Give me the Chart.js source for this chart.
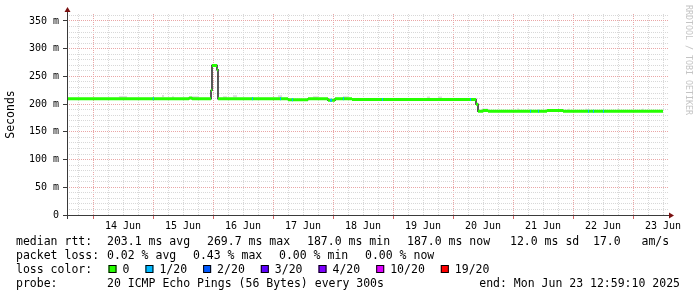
<!DOCTYPE html>
<html>
<head>
<meta charset="utf-8">
<script src="https://cdn.jsdelivr.net/npm/chart.js@4.4.1/dist/chart.umd.min.js"></script>
<style>
  html, body { margin: 0; padding: 0; background: #fff; }
</style>
</head>
<body>
<canvas id="rtt" width="697" height="297"></canvas>
<script>
// x is hours counted from 14 Jun 00:00
const X_MIN = -10.4;
const X_MAX = 230;
const Y_MAX = 362.6;

// median rtt in ms, one entry per step
const medianStart = [-10.4, 38.4, 39.6, 47.2, 47.6, 49.6, 50, 78, 86, 94, 96.8, 103.6, 153.2, 154, 156, 158, 181.6, 188];
const medianValue = [209.5, 211, 209.5, 225, 269.7, 262, 209.5, 208, 209.5, 207, 209.5, 208.5, 200, 187, 188.5, 187, 188.5, 187];
const medianEnd = 228;

// intervals that lost 1 of 20 pings
const lossStart = [23.9, 63.6, 74.8, 79.6, 94.8, 100, 115.6, 150.8, 174.8, 178, 198, 200, 204];
const lossEnd = [24.3, 64, 75.2, 80, 95.6, 100.4, 116, 151.2, 175.2, 178.4, 198.4, 200.4, 204.4];
const lossValue = [209.5, 209.5, 209.5, 208, 207, 209.5, 208.5, 208.5, 187, 187, 187, 187, 187];

// smoke peeking above the median
const smokeStart = [10.4, 27.6, 31.6, 39.6, 52, 56, 74, 88, 100, 133.6, 138, 155.6, 169.6, 190, 196.8, 209.6, 219.6];
const smokeEnd = [13.6, 28.4, 32.4, 42.4, 53.6, 57.6, 75.6, 90, 102, 134.8, 139.6, 158, 170.4, 190.8, 197.6, 210.4, 220.4];
const smokeTop = [213, 214.5, 212.5, 212.5, 212.5, 214, 214, 212.5, 212.5, 212, 212, 190.5, 190.5, 190, 190, 190, 190];

// axis ticks and labels
const gridHours = [-6, 0, 6, 12, 18, 24, 30, 36, 42, 48, 54, 60, 66, 72, 78, 84, 90, 96, 102, 108, 114, 120,
  126, 132, 138, 144, 150, 156, 162, 168, 174, 180, 186, 192, 198, 204, 210, 216, 222, 228];
const dayNoon = [12, 36, 60, 84, 108, 132, 156, 180, 204, 228];
const dayLabels = ['14 Jun', '15 Jun', '16 Jun', '17 Jun', '18 Jun', '19 Jun', '20 Jun', '21 Jun', '22 Jun', '23 Jun'];
const gridMs = [0, 10, 20, 30, 40, 50, 60, 70, 80, 90, 100, 110, 120, 130, 140, 150, 160, 170, 180,
  190, 200, 210, 220, 230, 240, 250, 260, 270, 280, 290, 300, 310, 320, 330, 340, 350, 360];
const yTicks = [0, 50, 100, 150, 200, 250, 300, 350];
const yTickLabels = ['0', '50 m', '100 m', '150 m', '200 m', '250 m', '300 m', '350 m'];

// legend texts
const rttStats = ['203.1 ms avg', '269.7 ms max', '187.0 ms min', '187.0 ms now', '12.0 ms sd', '17.0   am/s'];
const lossStats = ['0.02 % avg', '0.43 % max', '0.00 % min', '0.00 % now'];
const lossLabels = ['0', '1/20', '2/20', '3/20', '4/20', '10/20', '19/20'];
const lossColors = ['#26ff00', '#00b8ff', '#0059ff', '#5e00ff', '#7e00ff', '#dd00ff', '#ff0000'];

const MONO = "'DejaVu Sans Mono', monospace";
const GRID_MINOR = '#d8d8d8';
const GRID_MAJOR = '#eaa6a6';

function isStep(v, step) {
  return Math.abs(v / step - Math.round(v / step)) < 1e-6;
}

// horizontal pieces separated by gaps
function segments(starts, ends, values) {
  const pts = [];
  starts.forEach((s, i) => {
    pts.push({ x: s, y: values[i] }, { x: ends[i], y: values[i] }, { x: ends[i], y: null });
  });
  return pts;
}

const medianEnds = medianStart.map((s, i) => i < medianStart.length - 1 ? medianStart[i + 1] : medianEnd);
const medianSteps = medianStart.map((s, i) => ({ x: s, y: medianValue[i] }));
medianSteps.push({ x: medianEnd, y: medianValue[medianValue.length - 1] });

const decorations = {
  id: 'decorations',
  afterDraw(chart) {
    const { ctx, chartArea: a } = chart;
    ctx.save();

    // axis lines and arrows
    ctx.strokeStyle = '#3a3a3a';
    ctx.lineWidth = 1;
    ctx.beginPath();
    ctx.moveTo(a.left - 4, a.bottom + 0.5);
    ctx.lineTo(a.right + 1, a.bottom + 0.5);
    ctx.moveTo(a.left + 0.5, a.bottom + 4);
    ctx.lineTo(a.left + 0.5, a.top - 2);
    ctx.stroke();

    ctx.fillStyle = '#7a1010';
    ctx.beginPath();
    ctx.moveTo(a.right + 6, a.bottom + 0.5);
    ctx.lineTo(a.right + 1, a.bottom - 2.5);
    ctx.lineTo(a.right + 1, a.bottom + 3.5);
    ctx.closePath();
    ctx.fill();
    ctx.beginPath();
    ctx.moveTo(a.left + 0.5, a.top - 7);
    ctx.lineTo(a.left - 2.5, a.top - 2);
    ctx.lineTo(a.left + 3.5, a.top - 2);
    ctx.closePath();
    ctx.fill();

    // watermark
    ctx.save();
    ctx.translate(688, 5);
    ctx.rotate(Math.PI / 2);
    ctx.font = '8.3px ' + MONO;
    ctx.fillStyle = '#c4c4c4';
    ctx.textBaseline = 'middle';
    ctx.fillText('RRDTOOL / TOBI OETIKER', 0, 0);
    ctx.restore();

    // legend
    ctx.font = '11.5px ' + MONO;
    ctx.fillStyle = '#000';
    ctx.textBaseline = 'alphabetic';
    const rows = [245, 258.9, 272.8, 286.7];

    ctx.fillText('median rtt:', 16, rows[0]);
    const rttX = [107, 207, 307, 407, 510, 593];
    rttStats.forEach((t, i) => ctx.fillText(t, rttX[i], rows[0]));

    ctx.fillText('packet loss:', 16, rows[1]);
    const lossX = [107, 193, 279, 365];
    lossStats.forEach((t, i) => ctx.fillText(t, lossX[i], rows[1]));

    ctx.fillText('loss color:', 16, rows[2]);
    let bx = 108.5;
    lossLabels.forEach((t, i) => {
      ctx.fillStyle = lossColors[i];
      ctx.fillRect(bx, 265, 8, 8);
      ctx.strokeStyle = '#000';
      ctx.strokeRect(bx + 0.5, 265.5, 7, 7);
      ctx.fillStyle = '#000';
      ctx.fillText(t, bx + 14, rows[2]);
      bx += 14 + ctx.measureText(t).width + 16;
    });

    ctx.fillText('probe:', 16, rows[3]);
    ctx.fillText('20 ICMP Echo Pings (56 Bytes) every 300s', 107, rows[3]);
    ctx.textAlign = 'right';
    ctx.fillText('end: Mon Jun 23 12:59:10 2025', 680, rows[3]);

    ctx.restore();
  }
};

new Chart(document.getElementById('rtt'), {
  type: 'line',
  data: {
    datasets: [
      {
        label: 'loss 1/20',
        data: segments(lossStart, lossEnd, lossValue),
        borderColor: lossColors[1],
        borderWidth: 3,
        pointRadius: 0,
        spanGaps: false
      },
      {
        label: 'median',
        data: segments(medianStart, medianEnds, medianValue),
        borderColor: lossColors[0],
        borderWidth: 3,
        pointRadius: 0,
        spanGaps: false
      },
      {
        label: 'median step',
        data: medianSteps,
        borderColor: '#000',
        borderWidth: 1.3,
        pointRadius: 0,
        stepped: true
      },
      {
        label: 'smoke',
        data: segments(smokeStart, smokeEnd, smokeTop),
        borderColor: '#dcdcdc',
        borderWidth: 2,
        pointRadius: 0,
        spanGaps: false
      }
    ]
  },
  options: {
    responsive: false,
    animation: false,
    events: [],
    layout: { padding: { left: 0, right: 29, top: 14, bottom: 0 } },
    plugins: {
      legend: { display: false },
      tooltip: { enabled: false }
    },
    scales: {
      x: {
        type: 'linear',
        min: X_MIN,
        max: X_MAX,
        afterFit: s => { s.height = 82; },
        afterBuildTicks: s => { s.ticks = gridHours.map(v => ({ value: v })); },
        ticks: {
          stepSize: 6,
          autoSkip: false,
          maxRotation: 0,
          minRotation: 0,
          padding: 1,
          color: '#000',
          font: { family: MONO, size: 10 },
          callback: v => {
            const i = dayNoon.indexOf(v);
            return i >= 0 ? dayLabels[i] : '';
          }
        },
        grid: {
          color: c => isStep(c.tick.value, 24) ? GRID_MAJOR : GRID_MINOR,
          tickLength: 4,
          tickColor: c => isStep(c.tick.value, 24) ? '#d06060' : 'rgba(0,0,0,0)'
        },
        border: { display: false, dash: [1, 1] }
      },
      y: {
        type: 'linear',
        min: 0,
        max: Y_MAX,
        afterFit: s => { s.width = 67; },
        afterBuildTicks: s => { s.ticks = gridMs.map(v => ({ value: v })); },
        ticks: {
          stepSize: 10,
          autoSkip: false,
          padding: 4,
          color: '#000',
          font: { family: MONO, size: 10 },
          callback: v => {
            const i = yTicks.indexOf(v);
            return i >= 0 ? yTickLabels[i] : '';
          }
        },
        grid: {
          color: c => isStep(c.tick.value, 50) ? GRID_MAJOR : GRID_MINOR,
          tickLength: 4,
          tickColor: c => isStep(c.tick.value, 50) ? '#3a3a3a' : 'rgba(0,0,0,0)'
        },
        border: { display: false, dash: [1, 1] },
        title: {
          display: true,
          text: 'Seconds',
          color: '#000',
          font: { family: MONO, size: 11.5 },
          padding: { top: 4, bottom: 0 }
        }
      }
    }
  },
  plugins: [decorations]
});
</script>
</body>
</html>
